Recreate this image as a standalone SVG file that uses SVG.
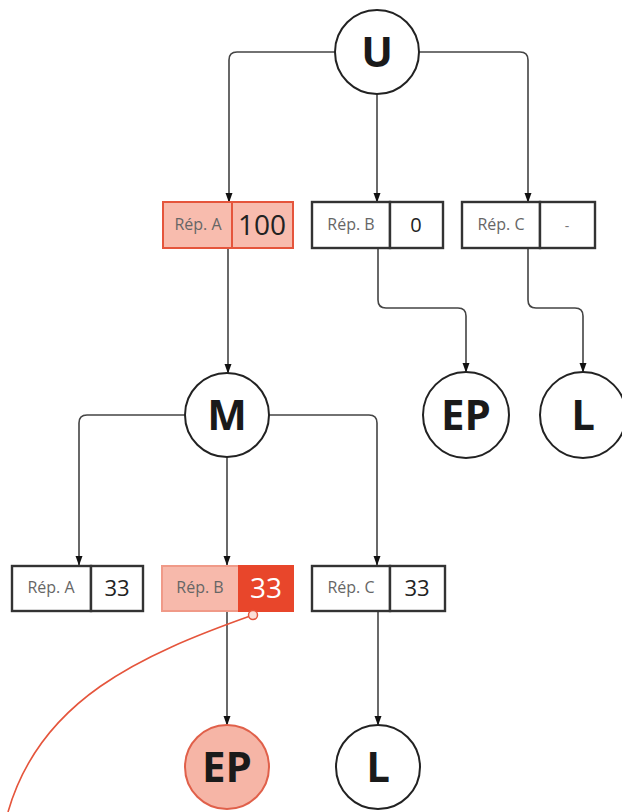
<svg xmlns="http://www.w3.org/2000/svg" width="622" height="812" viewBox="0 0 622 812">
<style>
.c{fill:#fff;stroke:#222;stroke-width:2}
.lt{font-family:"Open Sans","DejaVu Sans",sans-serif;font-weight:bold;font-size:42px;fill:#1a1a1a;text-anchor:middle}
.b{fill:#fff;stroke:#333;stroke-width:2.4}
.lab{font-family:"Open Sans","DejaVu Sans",sans-serif;font-size:16px;fill:#666;text-anchor:middle}
.val{font-family:"Open Sans","DejaVu Sans",sans-serif;font-size:20px;fill:#222;text-anchor:middle}
.hl{fill:#f8bcae;stroke:#e5553c;stroke-width:2}
</style>
<defs>
<marker id="a2" markerUnits="userSpaceOnUse" markerWidth="10" markerHeight="14" refX="13" refY="5" orient="auto" viewBox="0 0 14 10">
<path d="M0,0 L14,5 L0,10 Z" fill="#111"/>
</marker>
</defs>
<g id="connectors" fill="none" stroke="#444" stroke-width="1.6">
<path d="M335,52 H237 Q229,52 229,60 V202" marker-end="url(#a2)"/>
<path d="M377,94 V202" marker-end="url(#a2)"/>
<path d="M419,52 H520 Q528,52 528,60 V202" marker-end="url(#a2)"/>
<path d="M378,248 V300 Q378,308 386,308 H458 Q466,308 466,316 V372" marker-end="url(#a2)"/>
<path d="M528,248 V300 Q528,308 536,308 H575 Q583,308 583,316 V372" marker-end="url(#a2)"/>
<path d="M228,248 V373" marker-end="url(#a2)"/>
<path d="M185,415 H87 Q79,415 79,423 V565" marker-end="url(#a2)"/>
<path d="M227,457 V565" marker-end="url(#a2)"/>
<path d="M269,415 H369 Q377,415 377,423 V565" marker-end="url(#a2)"/>
<path d="M227,612 V725" marker-end="url(#a2)"/>
<path d="M378,612 V725" marker-end="url(#a2)"/>
</g>
<g id="U"><circle class="c" cx="377" cy="52" r="42"/><text class="lt" x="377" y="67">U</text></g>
<g id="repA1"><rect class="hl" x="163" y="202" width="69" height="46"/><rect class="hl" x="232" y="202" width="61" height="46"/><text class="lab" x="198" y="230">Rép. A</text><text class="val" x="262" y="235" style="font-size:28px">100</text></g>
<g id="repB1"><rect class="b" x="312" y="202" width="78" height="46"/><rect class="b" x="390" y="202" width="53" height="46"/><text class="lab" x="351" y="230">Rép. B</text><text class="val" x="416" y="232">0</text></g>
<g id="repC1"><rect class="b" x="462" y="202" width="78" height="46"/><rect class="b" x="540" y="202" width="55" height="46"/><text class="lab" x="501" y="230">Rép. C</text><text class="val" x="567" y="231" style="font-size:14px;fill:#777">-</text></g>
<g id="EP1"><circle class="c" cx="466" cy="415" r="43"/><text class="lt" x="466" y="430">EP</text></g>
<g id="L1"><circle class="c" cx="583" cy="415" r="43"/><text class="lt" x="583" y="430">L</text></g>
<g id="M"><circle class="c" cx="227" cy="415" r="42"/><text class="lt" x="227" y="430">M</text></g>
<g id="repA2"><rect class="b" x="12" y="566" width="79" height="45"/><rect class="b" x="91" y="566" width="52" height="45"/><text class="lab" x="51" y="593">Rép. A</text><text class="val" x="117" y="596" style="font-size:22px">33</text></g>
<g id="repB2"><rect x="162" y="566" width="77" height="45" fill="#f7b9ab" stroke="#f09a88" stroke-width="2"/><rect x="239" y="566" width="54" height="45" fill="#e8462b" stroke="#e8462b" stroke-width="2"/><text class="lab" x="200" y="593">Rép. B</text><text class="val" x="266" y="598" style="font-size:28px;fill:#fff">33</text></g>
<g id="repC2"><rect class="b" x="312" y="566" width="78" height="45"/><rect class="b" x="390" y="566" width="55" height="45"/><text class="lab" x="351" y="593">Rép. C</text><text class="val" x="417" y="596" style="font-size:22px">33</text></g>
<g id="EP2"><circle cx="227" cy="767" r="42" fill="#f6b5a6" stroke="#e0604a" stroke-width="2"/><text class="lt" x="227" y="782">EP</text></g>
<g id="L2"><circle class="c" cx="378" cy="767" r="42"/><text class="lt" x="378" y="782">L</text></g>
<g id="link"><path d="M253,615 C140,655 40,700 8,812" fill="none" stroke="#e5553c" stroke-width="1.6"/><circle cx="253" cy="615" r="4.5" fill="#fbe0d9" stroke="#e5553c" stroke-width="1.5"/></g>
</svg>
